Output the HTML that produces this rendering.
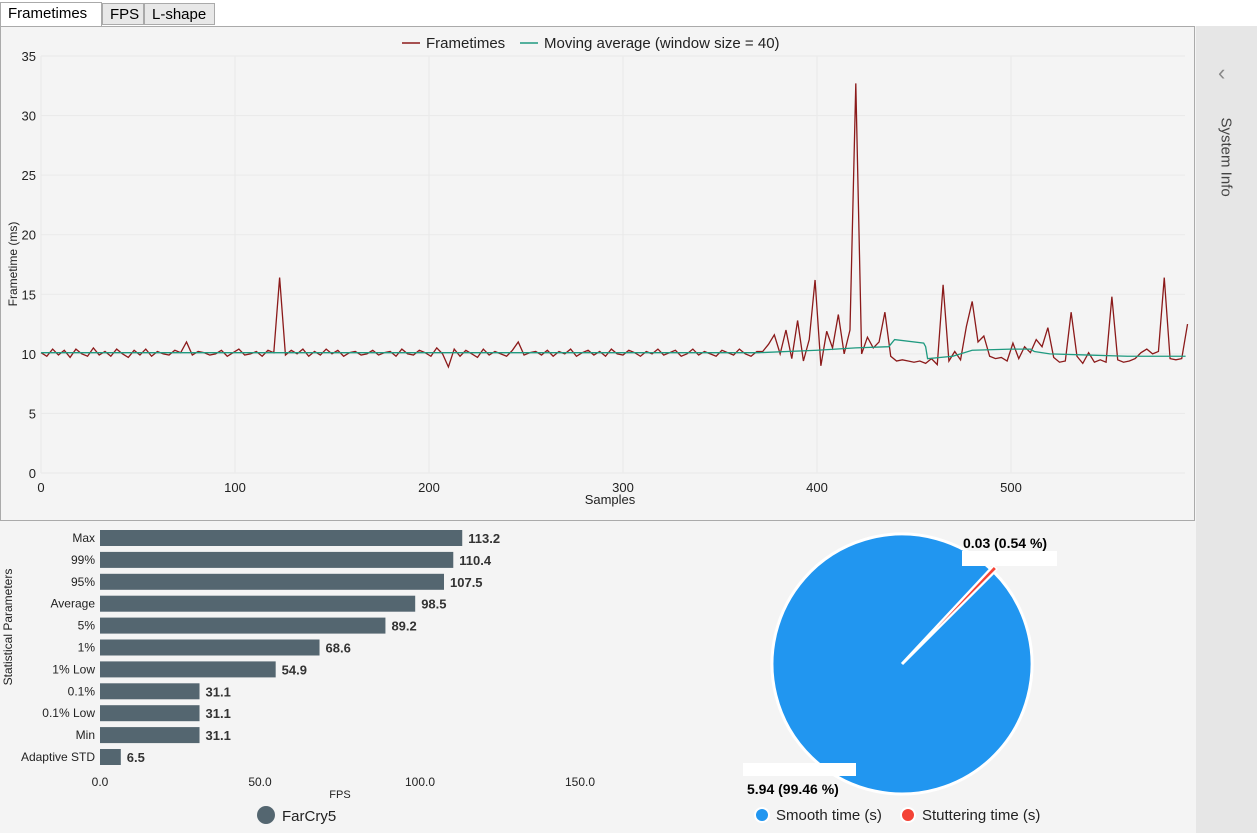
<!DOCTYPE html>
<html><head><meta charset="utf-8"><style>
body{margin:0;width:1257px;height:833px;background:#f4f4f4;font-family:"Liberation Sans",sans-serif;position:relative;overflow:hidden}
.tab{position:absolute;top:3px;height:22px;border:1px solid #aaa;background:#e8e8e8;font-size:15px;line-height:22px;padding:0 7px;box-sizing:border-box}
</style></head><body>
<div style="position:absolute;left:0;top:0;width:1257px;height:26px;background:#fff"></div>
<div class="tab" style="left:0;width:102px;background:#fff;border-bottom:none;height:24px;top:2px">Frametimes</div>
<div class="tab" style="left:102px;width:42px">FPS</div>
<div class="tab" style="left:144px;width:71px">L-shape</div>
<div style="position:absolute;left:1196px;top:26px;width:61px;height:807px;background:#e6e6e6">
<div style="position:absolute;left:22px;top:34px;font-size:22px;color:#888">‹</div>
<div style="position:absolute;left:-15px;top:128px;transform:rotate(90deg);font-size:15px;color:#444;white-space:nowrap;width:90px">System Info</div>
</div>
<svg width="1257" height="833" style="position:absolute;left:0;top:0" id="svg">
<rect x="0.5" y="26.5" width="1194" height="494" fill="#f4f4f4" stroke="#aaa"/>
<g id="ft"></g>
<g id="bars"></g>
<g id="pie"></g>
</svg>
<script>
const NS='http://www.w3.org/2000/svg';
function mk(p,t,a,txt){const e=document.createElementNS(NS,t);for(const k in a)e.setAttribute(k,a[k]);if(txt!==undefined)e.textContent=txt;p.appendChild(e);return e;}
// ---- Frametime data ----
const frametimes=[10.1,9.8,10.4,9.9,10.3,9.7,10.4,10.0,9.8,10.5,9.9,10.2,9.8,10.4,10.0,9.7,10.3,9.9,10.4,9.8,10.2,10.0,9.9,10.3,10.1,11.0,9.9,10.2,10.1,9.9,10.0,10.3,9.8,10.1,10.4,9.9,10.0,10.2,9.8,10.3,10.1,16.4,9.9,10.3,10.0,10.4,9.8,10.2,9.9,10.4,10.0,10.3,9.8,10.1,10.2,9.9,10.0,10.3,9.9,10.1,10.2,9.8,10.4,10.0,9.9,10.3,10.1,9.8,10.5,10.0,8.9,10.4,9.8,10.3,10.0,9.7,10.4,9.9,10.2,10.0,9.8,10.3,11.0,9.9,10.1,10.2,9.9,10.3,9.8,10.2,10.0,10.4,9.8,10.1,10.3,9.9,10.2,9.8,10.4,10.0,9.9,10.3,10.1,9.8,10.2,10.0,10.4,9.9,10.1,10.3,9.8,10.0,10.4,9.9,10.2,10.0,9.8,10.3,10.1,9.9,10.4,10.0,9.8,10.2,
10.2,10.8,11.6,10.0,12.0,9.6,12.8,9.4,11.2,16.2,9.0,11.9,10.5,13.3,10.0,12.0,32.7,10.0,11.4,10.5,11.0,13.5,9.8,9.4,9.5,9.4,9.3,9.4,9.2,9.6,9.1,15.8,9.4,10.2,9.5,12.3,14.4,11.0,11.5,9.8,9.6,9.7,9.4,10.9,9.6,10.6,10.1,11.2,10.6,12.2,9.7,9.3,9.4,13.5,9.8,9.2,10.1,9.3,9.5,9.3,14.8,9.5,9.3,9.4,9.6,10.1,10.4,10.0,10.2,16.4,9.6,9.5,9.6,12.5];
const sampleStep=3;
const maSamples=[0,100,200,300,370,400,420,437,440,455,456,457,470,480,500,510,512,520,540,560,575,590];
const maValues=[10.1,10.1,10.1,10.1,10.1,10.3,10.5,10.6,11.2,10.9,10.6,9.6,9.8,10.3,10.4,10.4,10.2,10.0,9.9,9.8,9.8,9.8];
const yTicks=[0,5,10,15,20,25,30,35];
const xTicks=[0,100,200,300,400,500];
const X=s=>41+s*1.94, Y=v=>473-v*11.914;
const ft=document.getElementById('ft');
yTicks.forEach(t=>{let l=mk(ft,'line',{x1:41,x2:1185,y1:Y(t),y2:Y(t),stroke:'#e9e9e9'});

let tx=mk(ft,'text',{x:36,y:Y(t)+5,'text-anchor':'end','font-size':13,fill:'#222'},t);
});
xTicks.forEach(t=>{let l=mk(ft,'line',{x1:X(t),x2:X(t),y1:56,y2:473,stroke:'#e9e9e9'});

let tx=mk(ft,'text',{x:X(t),y:492,'text-anchor':'middle','font-size':13,fill:'#222'},t);
});
let t1=mk(ft,'text',{x:610,y:504,'text-anchor':'middle','font-size':13,fill:'#222'},'Samples');

let t2=mk(ft,'text',{x:17,y:264,'text-anchor':'middle','font-size':12,fill:'#222',transform:'rotate(-90 17 264)'},'Frametime (ms)');

let p1=mk(ft,'polyline',{fill:'none',stroke:'#8b1a1a','stroke-width':1.3,points:frametimes.map((v,i)=>X(i*sampleStep)+','+Y(v)).join(' ')});

let p2=mk(ft,'polyline',{fill:'none',stroke:'#1f9a80','stroke-width':1.3,points:maSamples.map((s,i)=>X(s)+','+Y(maValues[i])).join(' ')});

let lg=mk(ft,'g',{});
mk(lg,'line',{x1:402,x2:420,y1:43,y2:43,stroke:'#8b1a1a','stroke-width':1.5});
mk(lg,'text',{x:426,y:48,'font-size':15,fill:'#222'},'Frametimes');
mk(lg,'line',{x1:520,x2:538,y1:43,y2:43,stroke:'#1f9a80','stroke-width':1.5});
mk(lg,'text',{x:544,y:48,'font-size':15,fill:'#222'},'Moving average (window size = 40)');
// ---- Bars ----
const barLabels=['Max','99%','95%','Average','5%','1%','1% Low','0.1%','0.1% Low','Min','Adaptive STD'];
const barValues=[113.2,110.4,107.5,98.5,89.2,68.6,54.9,31.1,31.1,31.1,6.5];
const fpsTicks=[0,50,100,150];
const bx=v=>100+v*3.2;
const bg=document.getElementById('bars');
barLabels.forEach((lab,i)=>{const cy=538+i*21.9;
let r=mk(bg,'rect',{x:100,y:cy-8,width:bx(barValues[i])-100,height:16,fill:'#546670'});

let a=mk(bg,'text',{x:95,y:cy+4,'text-anchor':'end','font-size':12,fill:'#222'},lab);

let b=mk(bg,'text',{x:bx(barValues[i])+6,y:cy+5,'font-size':13,'font-weight':'bold',fill:'#333'},barValues[i].toFixed(1));
});
fpsTicks.forEach(t=>{let a=mk(bg,'text',{x:bx(t),y:786,'text-anchor':'middle','font-size':12,fill:'#222'},t.toFixed(1));
});
let ft2=mk(bg,'text',{x:340,y:798,'text-anchor':'middle','font-size':11,fill:'#222'},'FPS');

let sp=mk(bg,'text',{x:12,y:627,'text-anchor':'middle','font-size':12,fill:'#222',transform:'rotate(-90 12 627)'},'Statistical Parameters');

let fc=mk(bg,'circle',{cx:266,cy:815,r:9,fill:'#546670'});
let fl=mk(bg,'text',{x:282,y:821,'font-size':15,fill:'#222'},'FarCry5');
// ---- Pie ----
const pieLabels=['Smooth time (s)','Stuttering time (s)'];
const pieValues=[5.94,0.03];
const piePercents=[99.46,0.54];
const pieColors=['#2196f0','#f44336'];
const pg=document.getElementById('pie');
const cx=902,cy=664,R=130;
const a0=45*Math.PI/180;
const pt=(a,r)=>[cx+r*Math.sin(a),cy-r*Math.cos(a)];
const aS=a0-piePercents[1]/100*2*Math.PI;
let [sx,sy]=pt(a0,R),[ex,ey]=pt(aS+2*Math.PI,R);
let ps=mk(pg,'path',{d:`M${cx},${cy}L${sx},${sy}A${R},${R} 0 1 1 ${ex},${ey}Z`,fill:pieColors[0],stroke:'#fff','stroke-width':3});

let [rx1,ry1]=pt(aS,R),[rx2,ry2]=pt(a0,R),[ox,oy]=[3,-3];
let pr=mk(pg,'path',{d:`M${cx+ox},${cy+oy}L${rx1+ox},${ry1+oy}A${R},${R} 0 0 1 ${rx2+ox},${ry2+oy}Z`,fill:pieColors[1],stroke:'#fff','stroke-width':1.5});

mk(pg,'rect',{x:962,y:551,width:95,height:15,fill:'#fff'});
let l1=mk(pg,'text',{x:963,y:548,'font-size':14,'font-weight':'bold',fill:'#000'},pieValues[1].toFixed(2)+' ('+piePercents[1].toFixed(2)+' %)');

mk(pg,'rect',{x:743,y:763,width:113,height:13,fill:'#fff'});
let l2=mk(pg,'text',{x:747,y:794,'font-size':14,'font-weight':'bold',fill:'#000'},pieValues[0].toFixed(2)+' ('+piePercents[0].toFixed(2)+' %)');

const lgx=[762,908];
pieLabels.forEach((lab,i)=>{let c=mk(pg,'circle',{cx:lgx[i],cy:815,r:7,fill:pieColors[i],stroke:'#fff','stroke-width':2});

let t=mk(pg,'text',{x:lgx[i]+14,y:820,'font-size':15,fill:'#222'},lab);
});
</script>
</body></html>
